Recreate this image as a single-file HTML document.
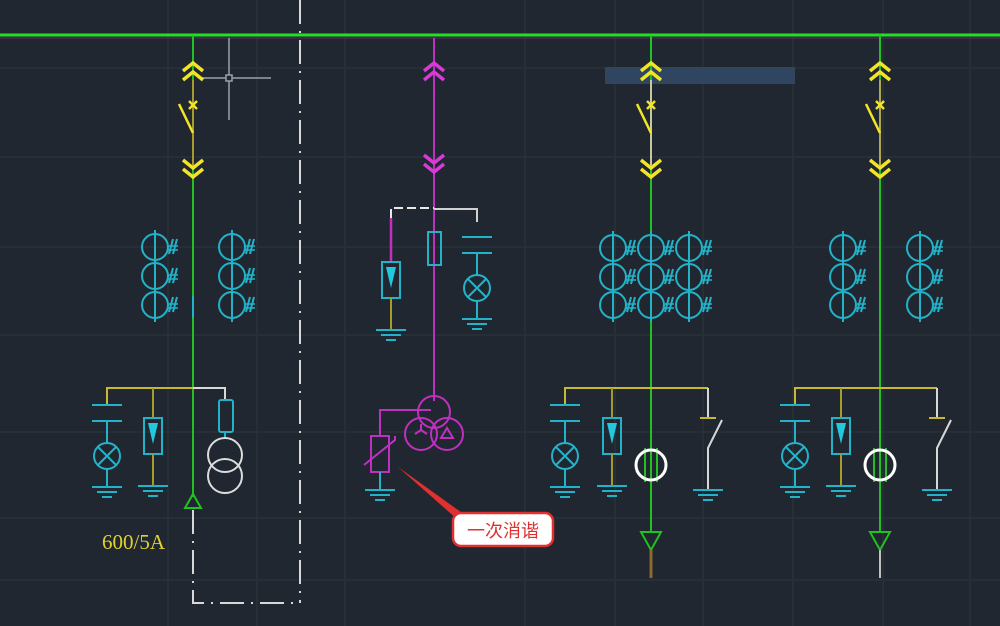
<!DOCTYPE html>
<html><head><meta charset="utf-8"><style>
html,body{margin:0;padding:0;background:#202731;}
svg{display:block}
</style></head><body>
<svg width="1000" height="626" viewBox="0 0 1000 626" xmlns="http://www.w3.org/2000/svg" fill="none" stroke-linecap="butt">
<defs>
<g id="chevU" stroke="#f2e526" stroke-width="3.5"><polyline points="-10,8 0,0 10,8"/><polyline points="-10,17 0,9 10,17"/></g>
<g id="chevD" stroke="#f2e526" stroke-width="3.5"><polyline points="-10,0 0,8 10,0"/><polyline points="-10,9 0,17 10,9"/></g>
<g id="chevUm" stroke="#d83ad8" stroke-width="3.5"><polyline points="-10,8 0,0 10,8"/><polyline points="-10,17 0,9 10,17"/></g>
<g id="chevDm" stroke="#d83ad8" stroke-width="3.5"><polyline points="-10,0 0,8 10,0"/><polyline points="-10,9 0,17 10,9"/></g>
<g id="sw" stroke="#f2e526" stroke-width="2.5"><line x1="-4" y1="-4" x2="4" y2="4"/><line x1="-4" y1="4" x2="4" y2="-4"/><line x1="-14" y1="-1" x2="0" y2="28"/></g>
<g id="ct" stroke="#23b3c8" stroke-width="2"><circle cx="0" cy="0" r="13"/><line x1="0" y1="-17" x2="0" y2="17"/><line x1="14" y1="7" x2="18" y2="-8"/><line x1="18" y1="7" x2="22" y2="-8"/><line x1="13" y1="-1" x2="23" y2="-1" stroke-width="1.5"/><line x1="13" y1="3" x2="23" y2="3" stroke-width="1.5"/></g>
<g id="gnd" stroke="#23b3c8" stroke-width="2"><line x1="-15" y1="0" x2="15" y2="0"/><line x1="-10" y1="5" x2="10" y2="5"/><line x1="-5" y1="10" x2="5" y2="10"/></g>
<g id="cap" stroke="#23b3c8" stroke-width="2"><line x1="-15" y1="0" x2="15" y2="0"/><line x1="-15" y1="16" x2="15" y2="16"/><line x1="0" y1="16" x2="0" y2="38"/><circle cx="0" cy="51" r="13"/><line x1="-9" y1="42" x2="9" y2="60"/><line x1="-9" y1="60" x2="9" y2="42"/><line x1="0" y1="64" x2="0" y2="82"/><use href="#gnd" y="82"/></g>
<g id="arr"><rect x="-9" y="0" width="18" height="36" stroke="#23b3c8" stroke-width="2"/><polygon points="-5,5 5,5 0,26" fill="#23c8dc"/><line x1="0" y1="36" x2="0" y2="68" stroke="#a89a2a" stroke-width="2"/><use href="#gnd" y="68"/></g>
</defs>
<!-- grid -->
<g stroke="#283039" stroke-width="1.5">
<line x1="0" y1="68" x2="1000" y2="68"/><line x1="0" y1="157" x2="1000" y2="157"/><line x1="0" y1="247" x2="1000" y2="247"/><line x1="0" y1="335" x2="1000" y2="335"/><line x1="0" y1="432" x2="1000" y2="432"/><line x1="0" y1="518" x2="1000" y2="518"/><line x1="0" y1="580" x2="1000" y2="580"/>
<line x1="168" y1="0" x2="168" y2="626"/><line x1="257" y1="0" x2="257" y2="626"/><line x1="345" y1="0" x2="345" y2="626"/><line x1="525" y1="0" x2="525" y2="626"/><line x1="615" y1="0" x2="615" y2="626"/><line x1="703" y1="0" x2="703" y2="626"/><line x1="793" y1="0" x2="793" y2="626"/><line x1="883" y1="0" x2="883" y2="626"/><line x1="970" y1="0" x2="970" y2="626"/>
</g>
<rect x="605" y="67" width="190" height="17" fill="#2f4560"/>
<!-- top bus -->
<line x1="0" y1="35" x2="1000" y2="35" stroke="#22e022" stroke-width="3"/>
<line x1="0" y1="38" x2="1000" y2="38" stroke="#6a2a6a" stroke-width="1"/>
<!-- dash-dot frame -->
<line x1="300" y1="0" x2="300" y2="603" stroke="#d8d8d8" stroke-width="2" stroke-dasharray="24,7,2,7"/>
<polyline points="193,510 193,603 300,603" stroke="#d8d8d8" stroke-width="2" stroke-dasharray="24,7,2,7"/>
<!-- crosshair -->
<g stroke="#9aa0a8" stroke-width="1.5"><line x1="229" y1="38" x2="229" y2="120"/><line x1="200" y1="78" x2="271" y2="78"/><rect x="226" y="75" width="6" height="6" fill="#202731"/></g>
<!-- column 1 -->
<line x1="193" y1="35" x2="193" y2="497" stroke="#22c022" stroke-width="2"/>
<line x1="193" y1="80" x2="193" y2="165" stroke="#a89a2a" stroke-width="2"/>
<use href="#chevU" x="193" y="63"/><use href="#sw" x="193" y="105"/><use href="#chevD" x="193" y="160"/>
<use href="#ct" x="155" y="247"/><use href="#ct" x="155" y="276"/><use href="#ct" x="155" y="305"/>
<use href="#ct" x="232" y="247"/><use href="#ct" x="232" y="276"/><use href="#ct" x="232" y="305"/>
<line x1="193" y1="296" x2="193" y2="318" stroke="#23b3c8" stroke-width="2"/>
<polyline points="107,405 107,388 193,388" stroke="#c8b830" stroke-width="2"/>
<polyline points="193,388 225,388 225,400" stroke="#d8d8d8" stroke-width="2"/>
<line x1="153" y1="388" x2="153" y2="418" stroke="#a89a2a" stroke-width="2"/>
<use href="#cap" x="107" y="405"/><use href="#arr" x="153" y="418"/>
<rect x="219" y="400" width="14" height="32" rx="2" stroke="#23b3c8" stroke-width="2"/>
<line x1="225" y1="432" x2="225" y2="438" stroke="#23b3c8" stroke-width="2"/>
<circle cx="225" cy="455" r="17" stroke="#dcdcdc" stroke-width="2"/><circle cx="225" cy="476" r="17" stroke="#dcdcdc" stroke-width="2"/>
<polygon points="193,494 185,508 201,508" stroke="#22c022" stroke-width="2"/>
<text x="102" y="549" font-family="Liberation Serif, serif" font-size="21" fill="#e0d030">600/5A</text>
<!-- column 2 magenta -->
<line x1="434" y1="38" x2="434" y2="401" stroke="#c030c0" stroke-width="2"/>
<use href="#chevUm" x="434" y="63"/><use href="#chevDm" x="434" y="155"/>
<polyline points="391,218 391,208 434,208" stroke="#e8e8e8" stroke-width="2" stroke-dasharray="9,4"/>
<polyline points="434,209 477,209 477,222" stroke="#d0d0d0" stroke-width="2"/>
<line x1="391" y1="218" x2="391" y2="262" stroke="#c030c0" stroke-width="2.5"/>
<use href="#arr" x="391" y="262"/>
<rect x="428" y="232" width="13" height="33" stroke="#23b3c8" stroke-width="2"/>
<use href="#cap" x="477" y="237"/>
<g stroke="#c030c0" stroke-width="2"><circle cx="434" cy="412" r="16"/><circle cx="421" cy="434" r="16"/><circle cx="447" cy="434" r="16"/>
<polyline points="431,410 380,410 380,436"/><rect x="371" y="436" width="18" height="36"/><polyline points="364,465 395,440 395,436"/>
<line x1="415" y1="434" x2="421" y2="430"/><line x1="427" y1="434" x2="421" y2="430"/><line x1="421" y1="430" x2="421" y2="424"/>
<polygon points="447,428 441,438 453,438"/></g>
<line x1="380" y1="472" x2="380" y2="490" stroke="#23b3c8" stroke-width="2"/><use href="#gnd" x="380" y="490"/>
<!-- callout -->
<polygon points="398,467 465,515 458,520" fill="#e03030"/>
<rect x="453" y="513" width="100" height="33" rx="8" fill="#fff" stroke="#e03030" stroke-width="2.5"/>
<text x="503" y="537" text-anchor="middle" font-family="Liberation Sans, Noto Sans CJK SC, sans-serif" font-size="18" fill="#e03030">一次消谐</text>
<!-- column 3 -->
<line x1="651" y1="35" x2="651" y2="533" stroke="#22c022" stroke-width="2"/>
<line x1="651" y1="80" x2="651" y2="165" stroke="#c8c8a0" stroke-width="2"/>
<use href="#chevU" x="651" y="63"/><use href="#sw" x="651" y="105"/><use href="#chevD" x="651" y="160"/>
<use href="#ct" x="613" y="248"/><use href="#ct" x="613" y="277"/><use href="#ct" x="613" y="305"/>
<use href="#ct" x="651" y="248"/><use href="#ct" x="651" y="277"/><use href="#ct" x="651" y="305"/>
<use href="#ct" x="689" y="248"/><use href="#ct" x="689" y="277"/><use href="#ct" x="689" y="305"/>
<polyline points="565,405 565,388 708,388" stroke="#c8b830" stroke-width="2"/>
<line x1="612" y1="388" x2="612" y2="418" stroke="#a89a2a" stroke-width="2"/>
<use href="#cap" x="565" y="405"/><use href="#arr" x="612" y="418"/>
<polyline points="708,388 708,418" stroke="#d8d8d8" stroke-width="2"/>
<line x1="700" y1="418" x2="716" y2="418" stroke="#c8b830" stroke-width="2"/>
<polyline points="722,420 708,448 708,490" stroke="#d8d8d8" stroke-width="2"/><use href="#gnd" x="708" y="490"/>
<g stroke="#22c022" stroke-width="2"><line x1="645" y1="448" x2="645" y2="482"/><line x1="657" y1="448" x2="657" y2="482"/></g>
<circle cx="651" cy="465" r="15" stroke="#ffffff" stroke-width="3"/>
<polygon points="641,532 661,532 651,550" stroke="#22c022" stroke-width="2"/>
<line x1="651" y1="550" x2="651" y2="578" stroke="#8a6a30" stroke-width="3"/>
<!-- column 4 -->
<line x1="880" y1="35" x2="880" y2="533" stroke="#22c022" stroke-width="2"/>
<line x1="880" y1="80" x2="880" y2="165" stroke="#b0a850" stroke-width="2"/>
<use href="#chevU" x="880" y="63"/><use href="#sw" x="880" y="105"/><use href="#chevD" x="880" y="160"/>
<use href="#ct" x="843" y="248"/><use href="#ct" x="843" y="277"/><use href="#ct" x="843" y="305"/>
<use href="#ct" x="920" y="248"/><use href="#ct" x="920" y="277"/><use href="#ct" x="920" y="305"/>
<polyline points="795,405 795,388 937,388" stroke="#c8b830" stroke-width="2"/>
<line x1="841" y1="388" x2="841" y2="418" stroke="#a89a2a" stroke-width="2"/>
<use href="#cap" x="795" y="405"/><use href="#arr" x="841" y="418"/>
<polyline points="937,388 937,418" stroke="#d8d8d8" stroke-width="2"/>
<line x1="929" y1="418" x2="945" y2="418" stroke="#c8b830" stroke-width="2"/>
<polyline points="951,420 937,448 937,490" stroke="#d8d8d8" stroke-width="2"/><use href="#gnd" x="937" y="490"/>
<g stroke="#22c022" stroke-width="2"><line x1="874" y1="448" x2="874" y2="482"/><line x1="886" y1="448" x2="886" y2="482"/></g>
<circle cx="880" cy="465" r="15" stroke="#ffffff" stroke-width="3"/>
<polygon points="870,532 890,532 880,550" stroke="#22c022" stroke-width="2"/>
<line x1="880" y1="550" x2="880" y2="578" stroke="#c0c0c0" stroke-width="2"/>
</svg>
</body></html>
